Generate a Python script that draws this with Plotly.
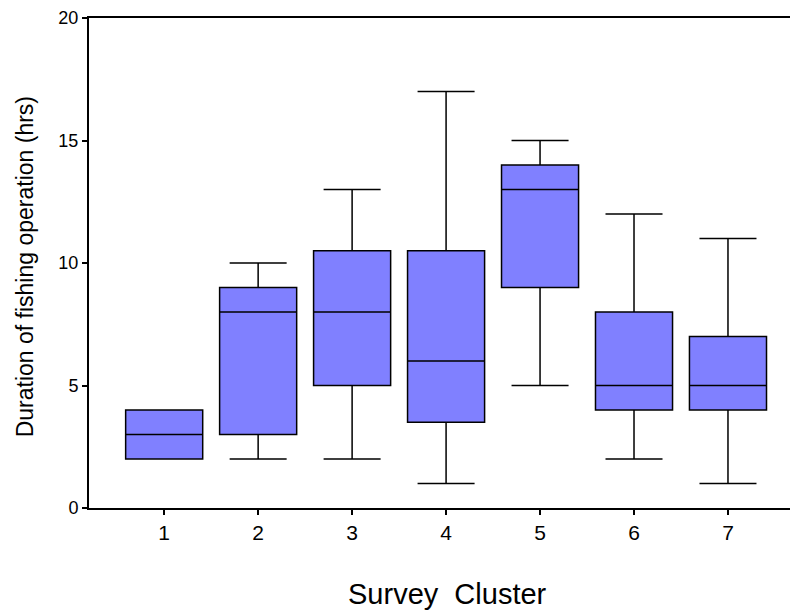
import plotly.graph_objects as go

clusters = [1, 2, 3, 4, 5, 6, 7]
tick_labels = ["1", "2", "3", "4", "5", "6", "7"]
lower = [2, 2, 2, 1, 5, 2, 1]
q1 = [2, 3, 5, 3.5, 9, 4, 4]
median = [3, 8, 8, 6, 13, 5, 5]
q3 = [4, 9, 10.5, 10.5, 14, 8, 7]
upper = [4, 10, 13, 17, 15, 12, 11]

fig = go.Figure()
fig.add_trace(go.Box(
    x=clusters, q1=q1, median=median, q3=q3,
    lowerfence=lower, upperfence=upper,
    width=0.82, whiskerwidth=0.74,
    fillcolor="#8080FF",
    line=dict(color="black", width=1.5),
    boxpoints=False, hoverinfo="skip", showlegend=False,
))

fig.update_layout(
    width=790, height=610,
    margin=dict(l=89, r=0, t=18, b=102),
    plot_bgcolor="white", paper_bgcolor="white",
    font=dict(family="Liberation Sans, Arial, sans-serif", color="black", size=17),
    xaxis=dict(
        range=[0.2, 7.66], tickmode="array", tickvals=clusters, ticktext=tick_labels,
        showgrid=False, zeroline=False, showline=True, linecolor="black", linewidth=2,
        mirror=True, ticks="outside", ticklen=5, tickwidth=1.5, tickcolor="black",
        tickfont=dict(size=21),
    ),
    yaxis=dict(
        range=[0, 20], tickvals=[0, 5, 10, 15, 20],
        showgrid=False, zeroline=False, showline=True, linecolor="black", linewidth=2,
        ticks="outside", ticklen=5, tickwidth=1.5, tickcolor="black",
        tickfont=dict(size=18),
    ),
    annotations=[
        dict(text="Duration of fishing operation (hrs)", xref="paper", yref="paper",
             x=-0.09, y=0.493, xanchor="center", yanchor="middle", textangle=-90,
             showarrow=False, font=dict(size=23)),
        dict(text="Survey  Cluster", xref="paper", yref="paper",
             x=0.511, y=-0.175, xanchor="center", yanchor="middle",
             showarrow=False, font=dict(size=29)),
    ],
)

fig.write_html("out.html")
